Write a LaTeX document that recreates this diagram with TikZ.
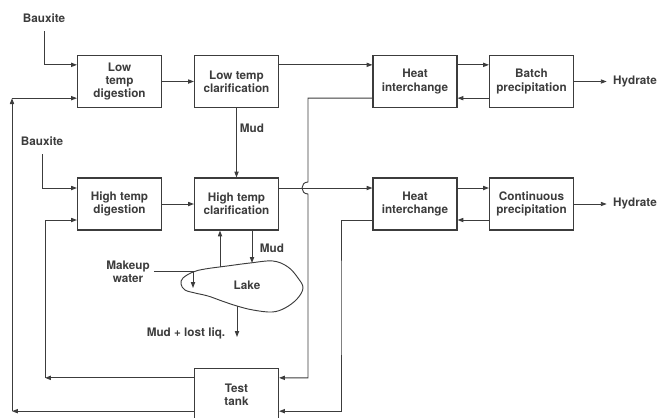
\documentclass[tikz,border=0pt]{standalone}
\usepackage{fontspec}
\setmainfont{TeX Gyre Heros}
\usetikzlibrary{arrows.meta, positioning, calc}
\definecolor{inkgrey}{HTML}{3C3C3C}

\begin{document}
\begin{tikzpicture}[x=0.03cm, y=-0.03cm,
    unit/.style={draw=inkgrey, line width=0.9pt, minimum width=2.52cm, minimum height=1.56cm, align=center, text=inkgrey, font=\fontsize{10}{11.2}\selectfont\bfseries},
    lbl/.style={text=inkgrey, align=center, font=\fontsize{10}{11.2}\selectfont\bfseries},
    pipe/.style={draw=inkgrey, line width=0.8pt},
    flow/.style={pipe, -{Triangle[length=5pt, width=3.6pt]}}]
  \useasboundingbox (0,0) rectangle (657,417);
  % Low temperature line
  \node[unit] (lowdig) at (119.5,81.5) {Low\\temp\\digestion};
  \node[unit] (lowclar) at (236.5,81.5) {Low temp\\clarification};
  \node[unit] (heattop) at (415,81.5) {Heat\\interchange};
  \node[unit] (batch) at (531.5,81.5) {Batch\\precipitation};
  % High temperature line
  \node[unit] (highdig) at (119.5,204) {High temp\\digestion};
  \node[unit] (highclar) at (236.5,204) {High temp\\clarification};
  \node[unit] (heatbot) at (415,204) {Heat\\interchange};
  \node[unit] (contin) at (531.5,204) {Continuous\\precipitation};
  \node[unit] (tank) at (236.5,394.5) {Test\\tank};
  % Labels
  \node[lbl] (baux1) at (44,18) {Bauxite};
  \node[lbl] (baux2) at (42,141) {Bauxite};
  \node[lbl, anchor=west] (hyd1) at (609,81.5) {Hydrate};
  \node[lbl, anchor=west] (hyd2) at (609,204) {Hydrate};
  \node[lbl] (mud1) at (252,128) {Mud};
  \node[lbl] (mud2) at (272,248) {Mud};
  \node[lbl] (makeup) at (128,272) {Makeup\\water};
  \node[lbl] (lake) at (247,285) {Lake};
  \node[lbl] (lost) at (186,333) {Mud + lost liq.};
  % Lake outline
  \draw[pipe] plot[smooth cycle, tension=0.6] coordinates {(183,278) (193,272) (205,269) (227,266) (250,263) (273,261) (288,267) (298,278) (303,288) (297,299) (285,308) (272,312) (253,310) (237,306) (222,301) (208,296) (195,293) (185,290) (181,284)};
  % Ports and corners
  \path ([yshift=0.5cm]lowdig.west) coordinate (lowdigA) ([yshift=-0.5cm]lowdig.west) coordinate (lowdigB)
        ([yshift=0.48cm]highdig.west) coordinate (highdigA) ([yshift=-0.48cm]highdig.west) coordinate (highdigB)
        ([yshift=0.5cm]tank.west) coordinate (tankA) ([yshift=-0.5cm]tank.west) coordinate (tankB)
        ([yshift=0.5cm]tank.east) coordinate (tankC) ([yshift=-0.5cm]tank.east) coordinate (tankD);
  \coordinate (cornerA) at (tankA -| 45,0);
  \coordinate (cornerB) at (tankB -| 12,0);
  \coordinate (hopA) at (308,182);
  \coordinate (hopB) at (308,194);
  \coordinate (riser) at (341,300);
  \coordinate (lakeup) at (220,267);
  \coordinate (lakemud) at (252,263);
  \coordinate (lakeout) at (237,306);
  \coordinate (lostend) at (237,337);
  \coordinate (waterin) at (193,288);
  % Feeds
  \draw[flow] ([yshift=-4pt]baux1.south) |- (lowdigA);
  \draw[flow] ([yshift=-4pt]baux2.south) |- (highdigA);
  \draw[flow] (lowdig) -- (lowclar);
  \draw[flow] (highdig) -- (highclar);
  \draw[flow] ([yshift=0.5cm]lowclar.east) -- ([yshift=0.5cm]heattop.west);
  \draw[flow] ([yshift=0.5cm]heattop.east) -- ([yshift=0.5cm]batch.west);
  \draw[flow] ([yshift=-0.5cm]batch.west) -- ([yshift=-0.5cm]heattop.east);
  \draw[flow] ([yshift=0.48cm]highclar.east) -- ([yshift=0.48cm]heatbot.west);
  \draw[flow] ([yshift=0.48cm]heatbot.east) -- ([yshift=0.48cm]contin.west);
  \draw[flow] ([yshift=-0.48cm]contin.west) -- ([yshift=-0.48cm]heatbot.east);
  \draw[flow, shorten >=2pt] (batch) -- (hyd1);
  \draw[flow, shorten >=2pt] (contin) -- (hyd2);
  \draw[flow] (lowclar) -- (highclar);
  % Lake connections
  \draw[flow] (lakeup) -- (highclar.south -| lakeup);
  \draw[flow] (highclar.south -| lakemud) -- (lakemud);
  \draw[flow] (makeup.east |- 0,271) -| (waterin);
  \draw[flow] (lakeout) -- (lostend);
  % Return lines to test tank
  \draw[flow] ([yshift=-0.5cm]heattop.west) -| (hopA) .. controls (300,182) and (300,194) .. (hopB) |- (tankC);
  \draw[flow] ([yshift=-0.48cm]heatbot.west) -| (riser) |- (tankD);
  \draw[flow] (tankA) -- (cornerA);
  \draw[flow] (cornerA) |- (highdigB);
  \draw[flow] (tankB) -- (cornerB);
  \draw[flow] (cornerB) -- (cornerB |- lowdigB);
  \draw[flow] (cornerB |- lowdigB) -- (lowdigB);
\end{tikzpicture}
\end{document}
